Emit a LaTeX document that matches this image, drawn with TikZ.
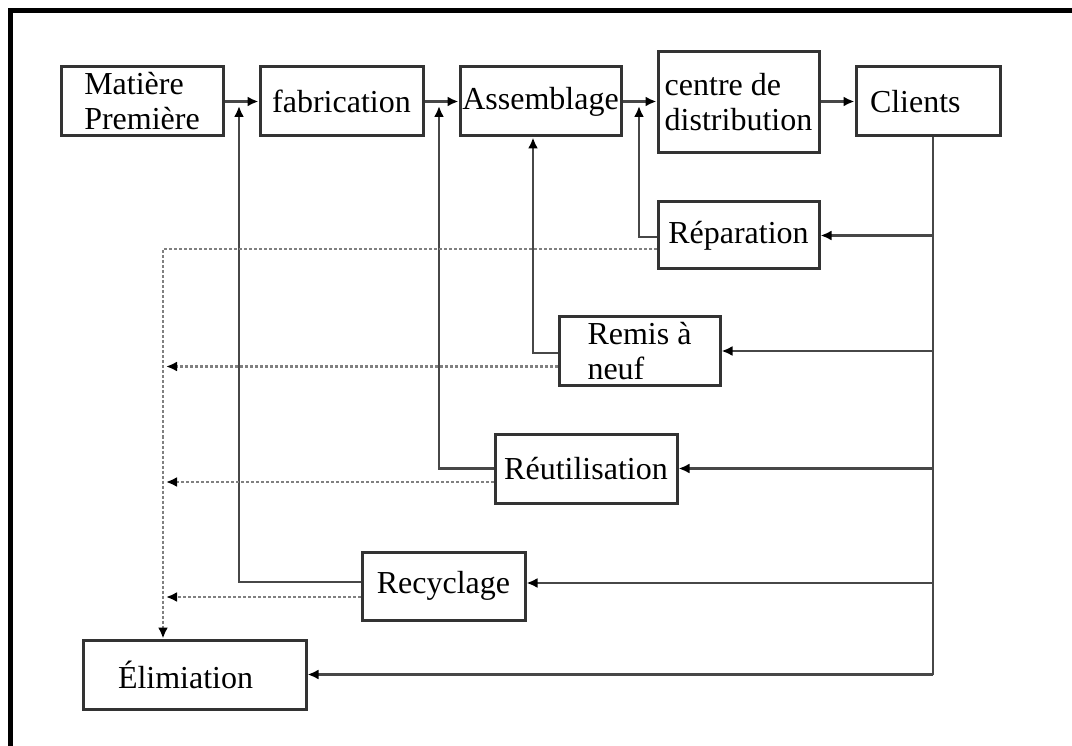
\documentclass[tikz,border=0pt]{standalone}
\usepackage{fontspec}
\setmainfont{Liberation Serif}
\usetikzlibrary{arrows.meta,calc}

\begin{document}
\begin{tikzpicture}[x=1pt,y=-1pt,>={Latex[length=11pt,width=10pt,color=black]},
box/.style={draw=black!80,line width=3pt,rectangle,inner sep=0pt,align=left,font=\fontsize{32}{35}\selectfont},
flow/.style={draw=black!72,line width=2.2pt},
waste/.style={draw=black!50,line width=2.4pt,dash pattern=on 3pt off 2pt}]
\useasboundingbox (0,0) rectangle (1072,746);
\draw[line width=5pt] (1072,10.5) -| (10,746);
\draw (142,101.5) node[box,minimum width=162,minimum height=69] (mp) {Matière\\Première};
\draw (341.5,101.5) node[box,minimum width=163,minimum height=69] (fab) {fabrication};
\draw (540.5,101.5) node[box,minimum width=161,minimum height=69] (asm) {Assemblage};
\draw (738.5,102.5) node[box,minimum width=161,minimum height=101] (cdd) {centre de\\distribution};
\draw (928,101.5) node[box,minimum width=144,minimum height=69,text width=116] (cli) {Clients};
\draw (738.5,235.5) node[box,minimum width=161,minimum height=67] (rep) {Réparation};
\draw (639.5,351) node[box,minimum width=161,minimum height=68] (rem) {Remis à\\neuf};
\draw (586,468.5) node[box,minimum width=182,minimum height=69] (reu) {Réutilisation};
\draw (443.5,586) node[box,minimum width=163,minimum height=68] (rec) {Recyclage};
\draw (194.5,674.5) node[box,minimum width=223,minimum height=69,text width=153] (eli) {Élimiation};
\coordinate (tr) at (933,674.5);
\coordinate (drop) at (163,249);
\coordinate (j1) at (239,106);
\coordinate (j2) at (439,106);
\coordinate (j3) at (639,106);
% chaine directe
\draw[->,flow] (mp) -- (fab);
\draw[->,flow] (fab) -- (asm);
\draw[->,flow] (asm.east) -- (asm.east -| cdd.west);
\draw[->,flow] (cdd.east |- cli) -- (cli.west);
% retours clients
\draw[flow] (cli.south -| tr) -- (tr);
\draw[->,flow] (tr |- rep) -- (rep.east);
\draw[->,flow] (tr |- rem) -- (rem.east);
\draw[->,flow] (tr |- reu) -- (reu.east);
\draw[->,flow] ($(tr |- rec)+(0,-3)$) -- ($(rec.east)+(0,-3)$);
\draw[->,flow] (tr) -- (eli.east);
\draw[->,flow] ($(rep.west)+(0,1.5)$) -| (j3);
\draw[->,flow] ($(rem.west)+(0,2)$) -| ($(asm.south)+(-7.5,0)$);
\draw[->,flow] (reu.west) -| (j2);
\draw[->,flow] ($(rec.west)+(0,-4)$) -| (j1);
% vers elimination
\draw[->,waste] ($(rep.west)+(0,13.5)$) -| (eli.north -| drop);
\draw[->,waste] ($(rem.west)+(0,15.5)$) coordinate (w2) -- ($(w2 -| drop)+(3,0)$);
\draw[->,waste] ($(reu.west)+(0,13.5)$) coordinate (w3) -- ($(w3 -| drop)+(3,0)$);
\draw[->,waste] ($(rec.west)+(0,11)$) coordinate (w4) -- ($(w4 -| drop)+(3,0)$);
\end{tikzpicture}
\end{document}
